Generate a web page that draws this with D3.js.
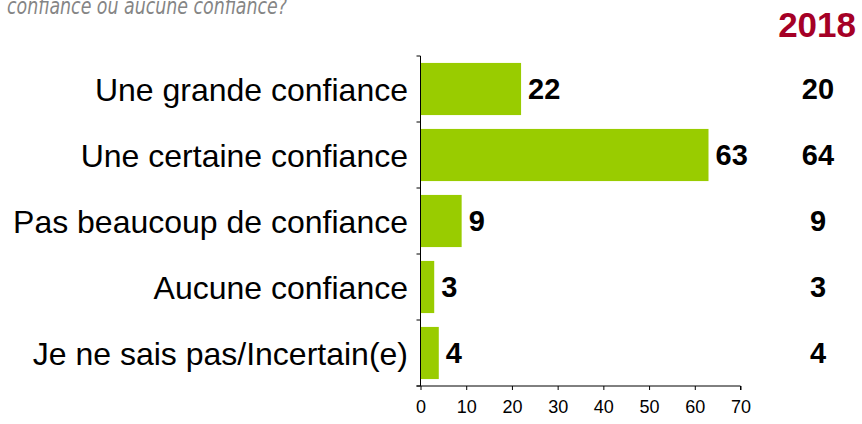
<!DOCTYPE html>
<html>
<head>
<meta charset="utf-8">
<script src="https://cdn.jsdelivr.net/npm/d3@7"></script>
<style>
  body { margin: 0; background: #fff; }
  svg { display: block; font-family: "Liberation Sans", Arial, sans-serif; }
</style>
</head>
<body>
<svg id="chart" width="862" height="424"></svg>
<script>
const categories = [
    "Une grande confiance",
    "Une certaine confiance",
    "Pas beaucoup de confiance",
    "Aucune confiance",
    "Je ne sais pas/Incertain(e)"
]
const values = [22, 63, 9, 3, 4]
const values2018 = [20, 64, 9, 3, 4]
const xTicks = [0, 10, 20, 30, 40, 50, 60, 70]

const svg = d3.select("#chart")

const x = d3.scaleLinear()
    .domain([0, 70])
    .range([420.5, 740.5])

const y = d3.scaleBand()
    .domain(categories)
    .range([56, 386])
    .paddingInner(0.21)
    .paddingOuter(0.105)

const step = y.step()

// titre coupé en haut
svg.append("text")
    .attr("x", 7)
    .attr("y", 14)
    .attr("fill", "#858585")
    .attr("font-family", "DejaVu Sans, sans-serif")
    .attr("font-style", "italic")
    .attr("font-size", 23)
    .attr("textLength", 280)
    .attr("lengthAdjust", "spacingAndGlyphs")
    .text("confiance ou aucune confiance?")

svg.append("text")
    .attr("x", 856)
    .attr("y", 37)
    .attr("text-anchor", "end")
    .attr("fill", "#a50026")
    .attr("font-weight", "bold")
    .attr("font-size", 35)
    .text("2018")

// barres
svg.append("g")
    .selectAll("rect")
    .data(values)
    .join("rect")
    .attr("x", x(0))
    .attr("y", (d, i) => y(categories[i]))
    .attr("width", d => x(d) - x(0))
    .attr("height", y.bandwidth())
    .attr("fill", "#99cc00")

// axe y
const yAxis = svg.append("g")
yAxis.append("line")
    .attr("x1", x(0)).attr("x2", x(0))
    .attr("y1", 56).attr("y2", 386)
    .attr("stroke", "#000")
yAxis.selectAll("line.tick")
    .data(categories.concat([null]))
    .join("line")
    .attr("class", "tick")
    .attr("x1", x(0) - 4).attr("x2", x(0))
    .attr("y1", (d, i) => 56 + i * step)
    .attr("y2", (d, i) => 56 + i * step)
    .attr("stroke", "#000")

yAxis.selectAll("text")
    .data(categories)
    .join("text")
    .attr("x", 408)
    .attr("y", d => y(d) + y.bandwidth() / 2)
    .attr("dy", "0.36em")
    .attr("text-anchor", "end")
    .attr("font-size", 32)
    .attr("fill", "#000")
    .text(d => d)

// axe x
const xAxis = svg.append("g")
    .attr("transform", "translate(0,386)")
    .call(d3.axisBottom(x).tickValues(xTicks).tickSize(4).tickPadding(10))
xAxis.select(".domain").attr("stroke", "#000").attr("d", `M${x(0) - 4},0H${x(70)}V4`)
xAxis.selectAll(".tick line").attr("stroke", "#000")
xAxis.selectAll(".tick text")
    .attr("font-size", 18)
    .attr("font-family", "Liberation Sans, Arial, sans-serif")
    .attr("fill", "#000")

// étiquettes de valeurs
svg.append("g")
    .selectAll("text")
    .data(values)
    .join("text")
    .attr("x", d => x(d) + 7)
    .attr("y", (d, i) => y(categories[i]) + y.bandwidth() / 2)
    .attr("dy", "0.36em")
    .attr("font-weight", "bold")
    .attr("font-size", 29)
    .text(d => d)

svg.append("g")
    .selectAll("text")
    .data(values2018)
    .join("text")
    .attr("x", 818)
    .attr("y", (d, i) => y(categories[i]) + y.bandwidth() / 2)
    .attr("dy", "0.36em")
    .attr("text-anchor", "middle")
    .attr("font-weight", "bold")
    .attr("font-size", 29)
    .text(d => d)
</script>
</body>
</html>
